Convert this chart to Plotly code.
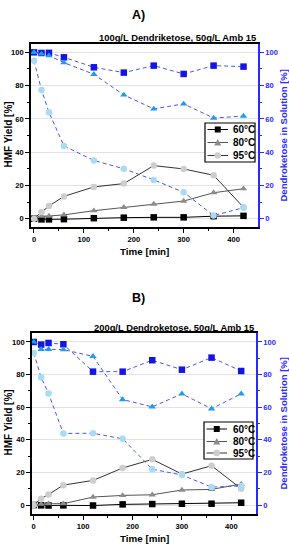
import plotly.graph_objects as go

W, H = 289, 544

time_min = [0, 15, 30, 60, 120, 180, 240, 300, 360, 420]
temps = ["60°C", "80°C", "95°C"]

# Panel A: 100 g/L dendroketose
a_hmf_60 = [0, -0.4, -0.4, -0.3, 0.3, 0.6, 0.8, 0.8, 1.5, 1.7]
a_hmf_80 = [0, 1.5, 1.6, 2.3, 4.8, 6.8, 8.8, 10.6, 15.6, 18.0]
a_hmf_95 = [0, 4.0, 7.6, 13.4, 19.1, 21.1, 31.9, 29.9, 26.1, 6.8]
a_dk_60 = [100, 99.6, 99.7, 97.0, 91.0, 87.8, 92.0, 87.0, 92.0, 91.4]
a_dk_80 = [100, 99.0, 98.0, 93.8, 86.8, 74.4, 66.0, 69.0, 60.5, 61.7]
a_dk_95 = [95.0, 77.4, 64.0, 43.7, 35.0, 30.0, 23.3, 15.9, 1.9, 6.6]

# Panel B: 200 g/L dendroketose
b_hmf_60 = [0, -0.2, -0.3, -0.2, -0.3, 0.4, 0.6, 0.8, 0.8, 1.4]
b_hmf_80 = [0, 0.6, 0.8, 0.8, 4.9, 5.9, 6.3, 9.2, 9.6, 12.9]
b_hmf_95 = [0, 3.9, 6.5, 12.2, 15.1, 22.7, 28.0, 19.0, 24.1, 10.0]
b_dk_60 = [100, 98.4, 99.4, 98.6, 81.8, 81.8, 88.8, 83.0, 90.4, 82.2]
b_dk_80 = [100, 95.5, 95.5, 95.3, 91.2, 64.7, 60.2, 68.2, 59.0, 68.2]
b_dk_95 = [93.3, 78.2, 68.4, 43.9, 44.0, 40.6, 22.0, 18.4, 11.0, 11.7]

panel_letters = ["A)", "B)"]
panel_titles = ["100g/L Dendriketose, 50g/L Amb 15",
                "200g/L Dendroketose, 50g/L Amb 15"]
x_title = "Time [min]"
y_title = "HMF Yield [%]"
y2_title = "Dendroketose in Solution [%]"

FONT = "Liberation Sans"
BLUE_AX = "#2a2aff"
DASH_C = "#4a55ee"

hmf_styles = [
    dict(line="#000000", marker="#000000", symbol="square"),
    dict(line="#555555", marker="#8c8c8c", symbol="triangle-up"),
    dict(line="#333333", marker="#cdcdcd", symbol="circle"),
]
dk_styles = [
    dict(marker="#1414e8", symbol="square"),
    dict(marker="#1e9cf0", symbol="triangle-up"),
    dict(marker="#a9dbf5", symbol="circle"),
]

# plot boxes in pixels (left, right, top, bottom) and legend boxes
boxes = [
    dict(l=31, r=258, t=44, b=227, xr=[-6, 449], yr=[-5, 105],
         leg=dict(l=205, r=255, t=123, b=162, rows=[129.5, 142.5, 155.5])),
    dict(l=32, r=256, t=333, b=514, xr=[-3.5, 450], yr=[-5.5, 105.5],
         leg=dict(l=204, r=253, t=422, b=459, rows=[429, 441.5, 453])),
]

fig = go.Figure()
panels = [
    (a_hmf_60, a_hmf_80, a_hmf_95, a_dk_60, a_dk_80, a_dk_95),
    (b_hmf_60, b_hmf_80, b_hmf_95, b_dk_60, b_dk_80, b_dk_95),
]


def px(x):
    return x / W


def py(y):
    return 1 - y / H


def ann(text, x, y, size, color="black", angle=0, xanchor="center"):
    return dict(text=text, x=px(x), y=py(y), xref="paper", yref="paper",
                xanchor=xanchor, yanchor="middle", textangle=angle,
                showarrow=False,
                font=dict(family=FONT, size=size, color=color, weight="bold"))


layout = {}
annotations = []
shapes = []
for i, (pdata, box) in enumerate(zip(panels, boxes)):
    xa = "x" if i == 0 else "x2"
    ya = "y" if i == 0 else "y3"
    ya2 = "y2" if i == 0 else "y4"
    hmfs = pdata[:3]
    dks = pdata[3:]
    for name, vals, st in zip(temps, hmfs, hmf_styles):
        fig.add_trace(go.Scatter(
            x=time_min, y=vals, name=name, mode="lines+markers",
            xaxis=xa, yaxis=ya, showlegend=False,
            line=dict(color=st["line"], width=1),
            marker=dict(color=st["marker"], symbol=st["symbol"], size=6.5,
                        line=dict(width=0)),
        ))
    for name, vals, st in zip(temps, dks, dk_styles):
        fig.add_trace(go.Scatter(
            x=time_min, y=vals, name=name, mode="lines+markers",
            xaxis=xa, yaxis=ya2, showlegend=False,
            line=dict(color=DASH_C, width=1, dash="4px,3px"),
            marker=dict(color=st["marker"], symbol=st["symbol"], size=6.5,
                        line=dict(width=0)),
        ))

    xd = [px(box["l"]), px(box["r"])]
    yd = [py(box["b"]), py(box["t"])]
    tickf = dict(family=FONT, size=7.6, color="black", weight="bold")
    xkey = "xaxis" if i == 0 else "xaxis2"
    ykey = "yaxis" if i == 0 else "yaxis3"
    y2key = "yaxis2" if i == 0 else "yaxis4"
    layout[xkey] = dict(
        domain=xd, anchor=ya, range=box["xr"], tickvals=[0, 100, 200, 300, 400],
        showline=True, linecolor="black", linewidth=1.5, mirror=True,
        ticks="outside", ticklen=4, tickwidth=1, tickcolor="black",
        minor=dict(ticks="outside", ticklen=2, tickvals=[50, 150, 250, 350], tickcolor="black"),
        showgrid=False, zeroline=False, tickfont=tickf,
    )
    layout[ykey] = dict(
        domain=yd, anchor=xa, range=box["yr"], tickvals=[0, 20, 40, 60, 80, 100],
        showline=True, linecolor="black", linewidth=1.5,
        ticks="outside", ticklen=4, tickwidth=1, tickcolor="black",
        minor=dict(ticks="outside", ticklen=2, tickvals=[10, 30, 50, 70, 90], tickcolor="black"),
        showgrid=True, gridcolor="#e3e3e3", gridwidth=1,
        zeroline=True, zerolinecolor="#e3e3e3", zerolinewidth=1,
        tickfont=tickf,
    )
    layout[y2key] = dict(
        overlaying=ya, anchor=xa, side="right", range=box["yr"],
        tickvals=[0, 20, 40, 60, 80, 100],
        showline=True, linecolor=BLUE_AX, linewidth=1.5,
        ticks="outside", ticklen=4, tickwidth=1, tickcolor=BLUE_AX,
        minor=dict(ticks="outside", ticklen=2, tickvals=[10, 30, 50, 70, 90], tickcolor=BLUE_AX),
        showgrid=False, zeroline=False,
        tickfont=dict(family=FONT, size=7.6, color=BLUE_AX, weight="bold"),
    )

    # compact legend drawn as shapes + text
    lg = box["leg"]
    shapes.append(dict(type="rect", xref="paper", yref="paper",
                       x0=px(lg["l"]), x1=px(lg["r"]), y0=py(lg["b"]), y1=py(lg["t"]),
                       line=dict(color="black", width=1.2), fillcolor="white",
                       layer="above"))
    for name, st, ry in zip(temps, hmf_styles, lg["rows"]):
        x0, x1 = lg["l"] + 2.5, lg["l"] + 23
        xm = (x0 + x1) / 2
        shapes.append(dict(type="line", xref="paper", yref="paper",
                           x0=px(x0), x1=px(x1), y0=py(ry), y1=py(ry),
                           line=dict(color=st["line"], width=1), layer="above"))
        s = 3
        if st["symbol"] == "square":
            shapes.append(dict(type="rect", xref="paper", yref="paper",
                               x0=px(xm - s), x1=px(xm + s), y0=py(ry + s), y1=py(ry - s),
                               fillcolor=st["marker"], line=dict(width=0), layer="above"))
        elif st["symbol"] == "circle":
            shapes.append(dict(type="circle", xref="paper", yref="paper",
                               x0=px(xm - s - 0.3), x1=px(xm + s + 0.3),
                               y0=py(ry + s + 0.3), y1=py(ry - s - 0.3),
                               fillcolor=st["marker"], line=dict(width=0), layer="above"))
        else:
            path = "M {:.5f},{:.5f} L {:.5f},{:.5f} L {:.5f},{:.5f} Z".format(
                px(xm - 3.6), py(ry + 3), px(xm + 3.6), py(ry + 3), px(xm), py(ry - 3.6))
            shapes.append(dict(type="path", xref="paper", yref="paper", path=path,
                               fillcolor=st["marker"], line=dict(width=0), layer="above"))
        annotations.append(ann(name, lg["l"] + 26.5, ry, 10, xanchor="left"))

    cy = (box["t"] + box["b"]) / 2
    annotations += [
        ann(panel_letters[i], 138, 15.5 if i == 0 else 298, 12.5),
        ann(panel_titles[i], box["r"], box["t"] - 6, 9.4, xanchor="right"),
        ann(y_title, 8, cy - 1, 10, angle=-90),
        ann(y2_title, 283, cy, 9.5, color=BLUE_AX, angle=-90),
        ann(x_title, (box["l"] + box["r"]) / 2, box["b"] + 24.5, 9.8),
    ]

fig.update_layout(
    width=W, height=H, margin=dict(l=0, r=0, t=0, b=0),
    paper_bgcolor="white", plot_bgcolor="white", showlegend=False,
    annotations=annotations, shapes=shapes, **layout,
)
fig.write_html("out.html", post_script="document.body.style.margin='0';",
               config={"displayModeBar": False})
